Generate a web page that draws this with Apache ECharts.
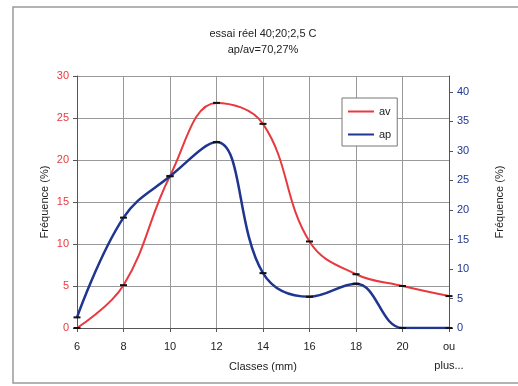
<!DOCTYPE html>
<html>
<head>
<meta charset="utf-8">
<script src="https://cdn.jsdelivr.net/npm/echarts@6/dist/echarts.min.js"></script>
<style>
  html, body { margin: 0; padding: 0; background: #fff; }
  #chart { width: 518px; height: 386px; }
</style>
</head>
<body>
<div id="chart"></div>
<script>
// Données
var classes = ['6', '8', '10', '12', '14', '16', '18', '20', 'ou\nplus...'];
var av = [0, 5.1, 18.1, 26.8, 24.3, 10.3, 6.4, 5.0, 3.8];   // axe gauche
var ap = [1.8, 18.7, 25.7, 31.5, 9.3, 5.3, 7.5, 0, 0];     // axe droit

var rouge = '#e8393f';
var bleu = '#1f3590';
var police = 'Liberation Sans';

var chart = echarts.init(document.getElementById('chart'));

var option = {
    animation: false,
    textStyle: { fontFamily: police },
    graphic: [{
        type: 'rect',
        shape: { x: 13, y: 7, width: 520, height: 376 },
        style: { fill: 'none', stroke: '#9a9a9a', lineWidth: 1.5 },
        silent: true
    }],
    title: {
        text: 'essai réel 40;20;2,5 C\nap/av=70,27%',
        left: 258,
        top: 21,
        textAlign: 'center',
        textStyle: { fontSize: 11, fontWeight: 'normal', color: '#222', lineHeight: 16, fontFamily: police }
    },
    legend: {
        orient: 'vertical',
        left: 342,
        top: 98,
        width: 54,
        padding: [8, 6, 6, 6],
        itemGap: 12,
        itemWidth: 26,
        itemHeight: 3,
        backgroundColor: '#fff',
        borderColor: '#777',
        borderWidth: 1,
        borderRadius: 0,
        textStyle: { fontSize: 11, color: '#222', fontFamily: police },
        data: [
            { name: 'av', icon: 'path://M0,0H26V2H0Z', itemStyle: { color: rouge } },
            { name: 'ap', icon: 'path://M0,0H26V2H0Z', itemStyle: { color: bleu } }
        ]
    },
    grid: {
        left: 77,
        right: 69,
        top: 76,
        bottom: 58,
        outerBoundsMode: 'none'
    },
    xAxis: {
        type: 'category',
        data: classes,
        boundaryGap: false,
        name: 'Classes (mm)',
        nameLocation: 'middle',
        nameGap: 33,
        nameMoveOverlap: false,
        nameTextStyle: { fontSize: 11, color: '#222', fontFamily: police },
        axisLine: { lineStyle: { color: '#555' } },
        axisTick: { show: true, length: 4, lineStyle: { color: '#555' } },
        axisLabel: { fontSize: 11, color: '#222', margin: 9, lineHeight: 19, fontFamily: police },
        splitLine: { show: true, lineStyle: { color: '#999' } }
    },
    yAxis: [{
        type: 'value',
        min: 0,
        max: 30,
        interval: 5,
        name: 'Fréquence (%)',
        nameLocation: 'middle',
        nameRotate: 90,
        nameGap: 27,
        nameMoveOverlap: false,
        nameTextStyle: { fontSize: 11, color: '#222', fontFamily: police },
        axisLine: { show: true, lineStyle: { color: '#555' } },
        axisTick: { show: true, length: 4, lineStyle: { color: '#555' } },
        axisLabel: { fontSize: 11, color: rouge, margin: 8, fontFamily: police },
        splitLine: { show: true, lineStyle: { color: '#999' } }
    }, {
        type: 'value',
        min: 0,
        max: 42.7,
        interval: 5,
        name: 'Fréquence (%)',
        nameLocation: 'middle',
        nameRotate: 90,
        nameGap: 45,
        nameMoveOverlap: false,
        nameTextStyle: { fontSize: 11, color: '#222', fontFamily: police },
        axisLine: { show: true, lineStyle: { color: '#555' } },
        axisTick: { show: true, length: 4, lineStyle: { color: '#555' } },
        axisLabel: { fontSize: 11, color: bleu, margin: 8, showMaxLabel: false, fontFamily: police },
        splitLine: { show: false }
    }],
    series: [{
        name: 'av',
        type: 'line',
        yAxisIndex: 0,
        data: av,
        smooth: 0.4,
        symbol: 'rect',
        symbolSize: [7, 2],
        showAllSymbol: true,
        itemStyle: { color: '#111', borderWidth: 0 },
        lineStyle: { color: rouge, width: 2 },
        z: 3
    }, {
        name: 'ap',
        type: 'line',
        yAxisIndex: 1,
        data: ap,
        smooth: 0.4,
        symbol: 'rect',
        symbolSize: [7, 2],
        showAllSymbol: true,
        itemStyle: { color: '#111', borderWidth: 0 },
        lineStyle: { color: bleu, width: 2.5 },
        z: 4
    }]
};

option && chart.setOption(option);
window.addEventListener('resize', chart.resize);
</script>
</body>
</html>
